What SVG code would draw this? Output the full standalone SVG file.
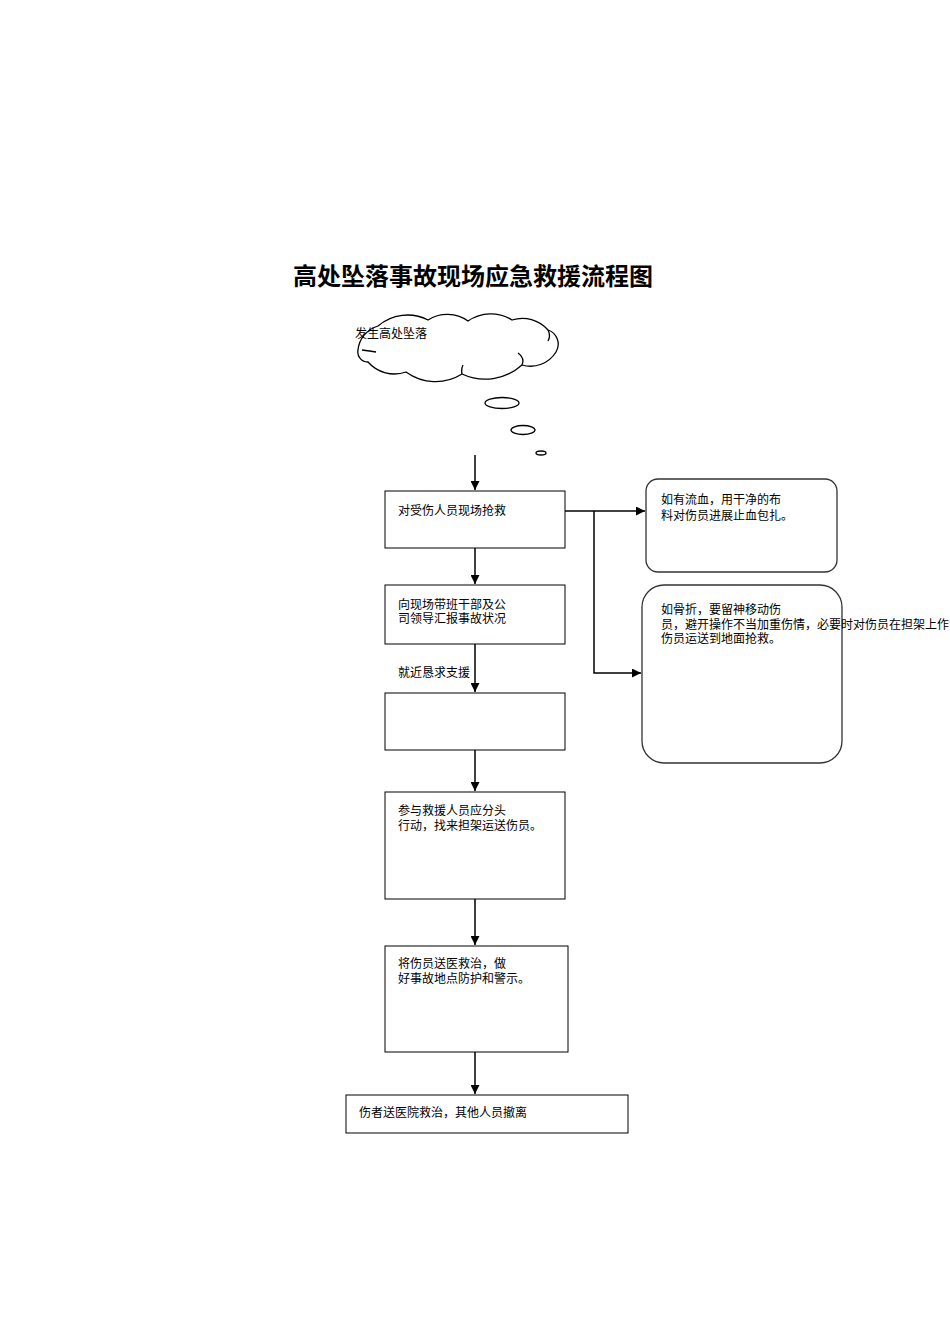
<svg xmlns="http://www.w3.org/2000/svg" width="950" height="1344" viewBox="0 0 950 1344">
<style>
  .t{font-family:"Liberation Sans","Noto Sans CJK SC",sans-serif;font-size:12px;fill:#000}
  .title{font-family:"Noto Sans CJK SC",sans-serif;font-size:24px;font-weight:bold;fill:#000}
  .box{fill:#fff;stroke:#000;stroke-width:1}
  .rbox{fill:#fff;stroke:#333;stroke-width:1.3}
  .ln{fill:none;stroke:#000;stroke-width:1.5}
  .cl{fill:#fff;stroke:#000;stroke-width:1.3}
</style>
<defs>
  <marker id="ah" viewBox="0 0 10 10" refX="10" refY="5" markerWidth="9" markerHeight="9" markerUnits="userSpaceOnUse" orient="auto">
    <path d="M0,0 L10,5 L0,10 Z" fill="#000"/>
  </marker>
</defs>
<rect width="950" height="1344" fill="#fff"/>
<text class="title" x="293" y="285">高处坠落事故现场应急救援流程图</text>

<g id="cloud">
  <path class="cl" d="M358,350 A28,28 0 0 1 378,326 A45,45 0 0 1 428,320 A36,36 0 0 1 468,321 A40,40 0 0 1 512,320 A34,34 0 0 1 548,330 A15,15 0 0 1 556,352 A30,30 0 0 1 522,365 A55,55 0 0 1 462,374 A50,50 0 0 1 406,372 A35,35 0 0 1 368,362 A10,10 0 0 1 358,350 Z"/>
  <path class="cl" fill="none" d="M362,350 Q370,351 376,352 M548,330 Q551,336 548,341 M522,365 Q525,358 518,353 M462,374 Q461,369 463,365"/>
  <text class="t" x="355" y="338">发生高处坠落</text>
  <ellipse class="cl" cx="502" cy="403" rx="17" ry="5.5"/>
  <ellipse class="cl" cx="523" cy="430" rx="12" ry="4.5"/>
  <ellipse class="cl" cx="541" cy="453" rx="5" ry="2"/>
</g>

<g id="n1"><rect class="box" x="385" y="491" width="180" height="57"/><text class="t" x="398" y="515">对受伤人员现场抢救</text></g>
<g id="n2"><rect class="box" x="385" y="585" width="180" height="59"/><text class="t" x="398" y="609">向现场带班干部及公</text><text class="t" x="398" y="623">司领导汇报事故状况</text></g>
<g id="n3"><rect class="box" x="385" y="693" width="180" height="57"/></g>
<g id="n4"><rect class="box" x="385" y="792" width="180" height="107"/><text class="t" x="398" y="815">参与救援人员应分头</text><text class="t" x="398" y="830">行动，找来担架运送伤员。</text></g>
<g id="n5"><rect class="box" x="385" y="946" width="183" height="106"/><text class="t" x="398" y="968">将伤员送医救治，做</text><text class="t" x="398" y="983">好事故地点防护和警示。</text></g>
<g id="n6"><rect class="box" x="346" y="1095" width="282" height="38"/><text class="t" x="359" y="1117">伤者送医院救治，其他人员撤离</text></g>
<g id="r1"><rect class="rbox" x="646" y="479" width="191" height="93" rx="12"/><text class="t" x="661" y="504">如有流血，用干净的布</text><text class="t" x="661" y="520">料对伤员进展止血包扎。</text></g>
<g id="r2"><rect class="rbox" x="642" y="585" width="200" height="178" rx="22"/><text class="t" x="661" y="614">如骨折，要留神移动伤</text><text class="t" x="661" y="629">员，避开操作不当加重伤情，必要时对伤员在担架上作简洁</text><text class="t" x="661" y="643">伤员运送到地面抢救。</text></g>

<g id="connectors">
  <line class="ln" x1="475" y1="455" x2="475" y2="490" marker-end="url(#ah)"/>
  <line class="ln" x1="475" y1="548" x2="475" y2="584" marker-end="url(#ah)"/>
  <line class="ln" x1="475" y1="644" x2="475" y2="692" marker-end="url(#ah)"/>
  <text class="t" x="398" y="677">就近恳求支援</text>
  <line class="ln" x1="475" y1="750" x2="475" y2="791" marker-end="url(#ah)"/>
  <line class="ln" x1="475" y1="899" x2="475" y2="945" marker-end="url(#ah)"/>
  <line class="ln" x1="475" y1="1052" x2="475" y2="1094" marker-end="url(#ah)"/>
  <line class="ln" x1="565" y1="511" x2="645" y2="511" marker-end="url(#ah)"/>
  <polyline class="ln" points="594,511 594,673 641,673" marker-end="url(#ah)"/>
</g>
</svg>
